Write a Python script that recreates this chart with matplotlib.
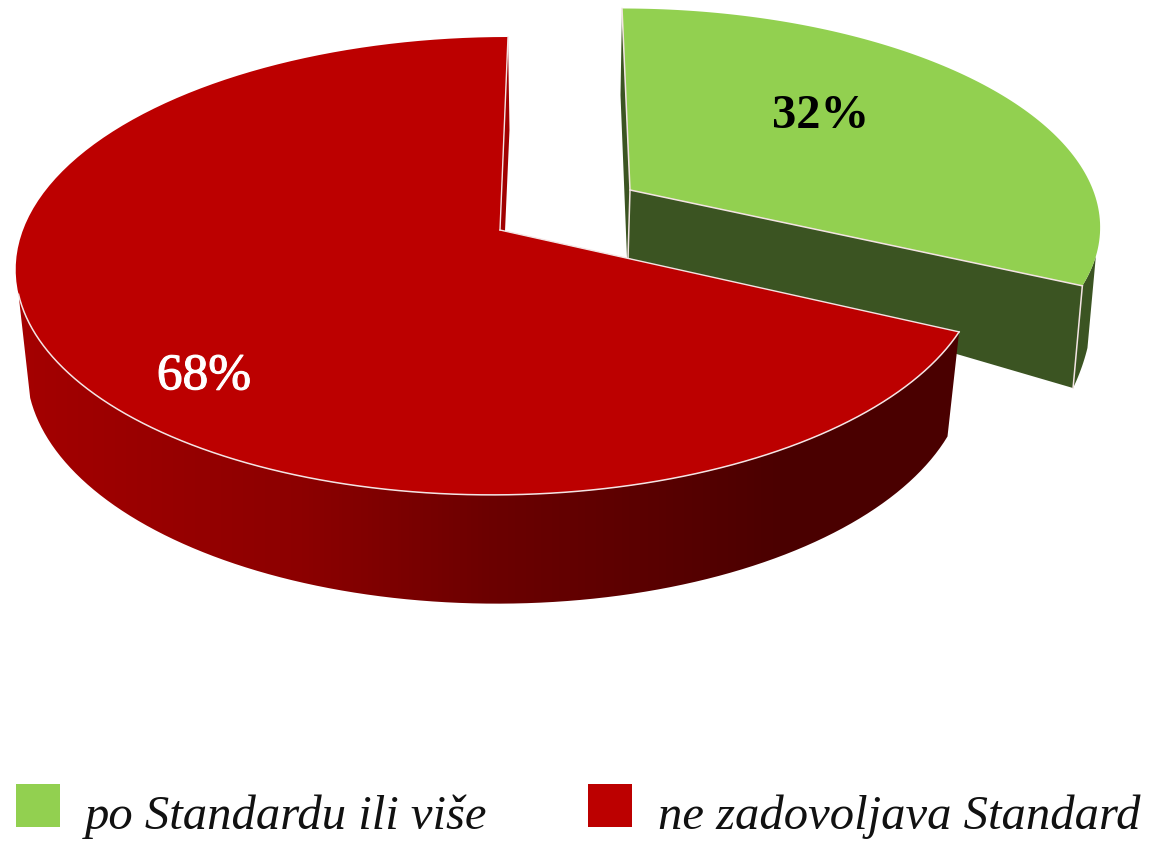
import numpy as np
import matplotlib
matplotlib.use("Agg")
import matplotlib.pyplot as plt
import matplotlib.patheffects as pe
from matplotlib.colors import LinearSegmentedColormap
from matplotlib.patches import Polygon, Rectangle

# Data
categories = ['po Standardu ili više', 'ne zadovoljava Standard']
shares = [32, 68]
share_labels = ['32%', '68%']

GREEN = '#92D050'
GREEN_DARK = '#3B5422'
RED = '#BC0000'
EDGE = '#F4E4E4'

plt.rcParams['font.family'] = ['Liberation Serif', 'DejaVu Serif']


# perspective view of a disc, theta clockwise from the back of the pie
def rim(theta, apex, a, b, k, skew=0.0):
    th = np.radians(theta)
    u = np.sin(th)
    v = -np.cos(th)
    d = 1 - k * v
    return np.column_stack([apex[0] + a * u / d + skew * v, apex[1] + b * v / d])


fig = plt.figure(figsize=(11.5, 8.46), dpi=100)
ax = fig.add_axes([0, 0, 1, 1])

split = 360 * shares[0] / sum(shares)
steps = np.linspace(0, 1, 120)

# --- green slice --- #
g_top = dict(apex=(630, 190), a=463, b=210, k=0.157, skew=8)
g_low = dict(apex=(628, 258), a=459, b=285, k=0.157)
g_sil = 107.5

g_corner_top = rim(split, **g_top)[0]
g_corner_low = rim(split, **g_low)[0]
g_back = rim(0, **g_top)[0]

# back sliver
ax.add_patch(Polygon([g_back, (620.5, 95), (627, 258), g_low['apex'], g_top['apex']],
                     closed=True, fc=GREEN_DARK, ec='none', zorder=1))
# side walls
ax.add_patch(Polygon([g_top['apex'], g_corner_top, g_corner_low, g_low['apex']],
                     closed=True, fc=GREEN_DARK, ec='none', zorder=1))
wall = np.vstack([rim(np.linspace(g_sil, split, 12), **g_top),
                  rim(np.linspace(split, g_sil, 12), **g_low)])
ax.add_patch(Polygon(wall, closed=True, fc=GREEN_DARK, ec='none', zorder=1))
# top
g_arc = rim(split * steps, **g_top)
ax.add_patch(Polygon(np.vstack([[g_top['apex']], g_arc]), closed=True, fc=GREEN, ec='none', zorder=2))
for p, q in [(g_top['apex'], g_corner_top), (g_corner_top, g_corner_low),
             (g_top['apex'], g_low['apex']), (g_top['apex'], g_back)]:
    ax.plot([p[0], q[0]], [p[1], q[1]], color=EDGE, lw=1.1, zorder=3)

# --- red slice --- #
r_top = dict(apex=(500, 230), a=477, b=223.3, k=0.157, skew=-8)
r_low = dict(apex=(497, 332), a=464.6, b=229, k=0.157)
r_sil = 254

r_back = rim(360, **r_top)[0]
ax.add_patch(Polygon([r_back, (509.5, 130), (505, 231), r_top['apex']],
                     closed=True, fc='#A00000', ec='none', zorder=4))

# side wall, shaded left to right
wall = np.vstack([rim(np.linspace(split, r_sil, 100), **r_top),
                  rim(np.linspace(r_sil, split, 100), **r_low)])
shade = LinearSegmentedColormap.from_list('wall', [(0, '#A40000'), (0.3, '#8C0000'), (0.5, '#6C0000'),
                                                   (0.82, '#4A0000'), (1, '#4A0000')])
clip = Polygon(wall, closed=True, fc='none', ec='none', transform=ax.transData, zorder=4)
ax.add_patch(clip)
img = ax.imshow(np.linspace(0, 1, 256)[None, :], cmap=shade, aspect='auto',
                extent=(wall[:, 0].min(), wall[:, 0].max(), wall[:, 1].max(), wall[:, 1].min()), zorder=4)
img.set_clip_path(clip)

# top
r_arc = rim(split + (360 - split) * steps, **r_top)
ax.add_patch(Polygon(np.vstack([[r_top['apex']], r_arc]), closed=True, fc=RED, ec='none', zorder=5))

front = rim(np.linspace(split, r_sil, 100), **r_top)
ax.plot(front[:, 0], front[:, 1], color=EDGE, lw=1.1, zorder=6)
for p, q in [(r_top['apex'], rim(split, **r_top)[0]), (r_top['apex'], r_back)]:
    ax.plot([p[0], q[0]], [p[1], q[1]], color=EDGE, lw=1.0, zorder=6)

# --- labels --- #
ax.text(821, 116, share_labels[0], color='black', fontsize=35, fontweight='bold', ha='center', va='center', zorder=7)
ax.text(204, 377, share_labels[1], color='white', fontsize=37, ha='center', va='center', zorder=7,
        path_effects=[pe.withStroke(linewidth=0.8, foreground='white')])

# --- legend --- #
ax.add_patch(Rectangle((16, 784), 44, 43, fc=GREEN, ec='none'))
ax.add_patch(Rectangle((588, 784), 44, 43, fc=RED, ec='none'))
ax.text(85, 829, categories[0], fontsize=35, style='italic', color='#111111', ha='left', va='baseline')
ax.text(658, 829, categories[1], fontsize=35, style='italic', color='#111111', ha='left', va='baseline')

ax.set_xlim(0, 1150)
ax.set_ylim(846, 0)
ax.axis('off')

fig.savefig('out.png', dpi=100)
